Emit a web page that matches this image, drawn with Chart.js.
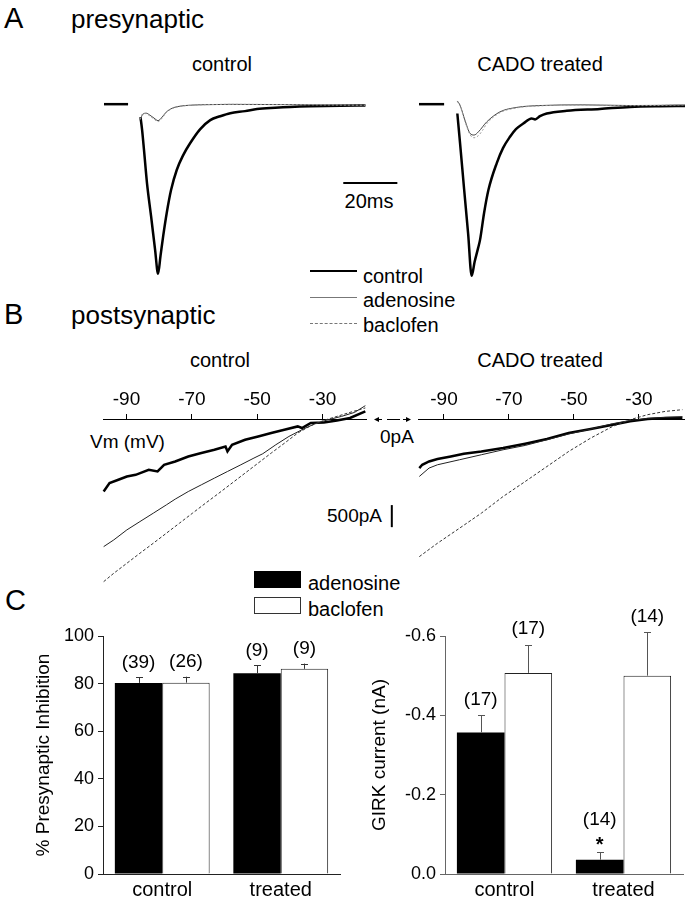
<!DOCTYPE html>
<html>
<head>
<meta charset="utf-8">
<script src="https://cdn.jsdelivr.net/npm/chart.js@4.4.0/dist/chart.umd.min.js"></script>
<style>
html,body{margin:0;padding:0;background:#fff;}
body{width:685px;height:900px;position:relative;overflow:hidden;font-family:"Liberation Sans",Arial,Helvetica,sans-serif;color:#000;}
.t{position:absolute;line-height:1;white-space:nowrap;}
.c{transform:translateX(-50%);}
canvas{position:absolute;}
</style>
</head>
<body>
<!-- Panel A text -->
<div class="t" style="left:4px;top:4px;font-size:29px;">A</div>
<div class="t" style="left:71px;top:6px;font-size:26px;">presynaptic</div>
<div class="t c" style="left:222px;top:54px;font-size:20px;">control</div>
<div class="t c" style="left:540px;top:54px;font-size:20px;">CADO treated</div>
<div class="t c" style="left:369px;top:191px;font-size:20px;">20ms</div>
<div style="position:absolute;left:310px;top:270px;width:47px;height:0;border-top:2.5px solid #000;"></div>
<div style="position:absolute;left:310px;top:297px;width:47px;height:0;border-top:1px solid #777;"></div>
<div style="position:absolute;left:310px;top:323px;width:47px;height:0;border-top:1px dashed #777;"></div>
<div class="t" style="left:363px;top:266px;font-size:20px;">control</div>
<div class="t" style="left:363px;top:290px;font-size:20px;">adenosine</div>
<div class="t" style="left:363px;top:315px;font-size:20px;">baclofen</div>
<!-- Panel B text -->
<div class="t" style="left:4px;top:300px;font-size:29px;">B</div>
<div class="t" style="left:71px;top:302px;font-size:26px;">postsynaptic</div>
<div class="t c" style="left:220px;top:350px;font-size:20px;">control</div>
<div class="t c" style="left:540px;top:350px;font-size:20px;">CADO treated</div>
<div class="t" style="left:90px;top:432px;font-size:19px;">Vm (mV)</div>
<div class="t" style="left:380px;top:427px;font-size:19px;">0pA</div>
<div class="t" style="left:327px;top:506px;font-size:19px;">500pA</div>
<svg style="position:absolute;left:368px;top:412px;" width="50" height="16">
  <g stroke="#000" stroke-width="1" fill="none">
    <line x1="7" y1="7.5" x2="14" y2="7.5"/>
    <line x1="19" y1="7.5" x2="32" y2="7.5"/>
    <line x1="35" y1="7.5" x2="42" y2="7.5"/>
  </g>
  <polygon points="6,7.5 11,5 11,10" fill="#000"/>
  <polygon points="43,7.5 38,5 38,10" fill="#000"/>
</svg>
<!-- Panel C text -->
<div class="t" style="left:5px;top:586px;font-size:29px;">C</div>
<div style="position:absolute;left:254px;top:571px;width:47px;height:17px;background:#000;"></div>
<div style="position:absolute;left:254px;top:597px;width:45px;height:15px;border:1px solid #333;background:#fff;"></div>
<div class="t" style="left:308px;top:573px;font-size:20px;">adenosine</div>
<div class="t" style="left:308px;top:599px;font-size:20px;">baclofen</div>

<canvas id="aLeft" width="312" height="210" style="left:94px;top:84px;"></canvas>
<canvas id="aRight" width="286" height="210" style="left:409px;top:84px;"></canvas>
<canvas id="bLeft" width="310" height="229" style="left:93px;top:381px;"></canvas>
<canvas id="bRight" width="287" height="229" style="left:408px;top:381px;"></canvas>
<canvas id="cLeft" width="350" height="310" style="left:0px;top:590px;"></canvas>
<canvas id="cRight" width="340" height="310" style="left:345px;top:590px;"></canvas>

<script>
// ---------------- DATA ----------------
// Panel A: presynaptic currents, time (ms) vs amplitude (% of control peak)
const aBaselineT = [0, 8.9];
const aBaselineY = [0, 0];
const aCtrlControlT = [13.5,14.1,14.8,15.9,17.4,18.9,20.0,20.9,21.9,23.2,24.8,26.9,29.3,31.9,35.6,39.3,43.0,46.7,52.2,56.6,63.3,68.9,76.3,87.4,96.7];
const aCtrlControlY = [-7.6,-15.3,-27.1,-46.5,-65.9,-85.9,-100,-89.4,-77.6,-64.1,-50.6,-38.8,-30.0,-22.9,-14.7,-9.4,-7.1,-5.3,-4.1,-2.9,-2.1,-1.6,-1.2,-0.9,-0.8];
const aCtrlAdenoT = [13.3,14.4,15.6,17.0,18.5,20.0,21.5,23.0,25.2,28.1,31.9,37.4,46.7,96.7];
const aCtrlAdenoY = [-9.4,-5.9,-5.3,-6.5,-8.2,-9.7,-7.6,-4.7,-2.4,-1.2,-0.6,-0.3,-0.1,-0.6];
const aCtrlBacloY = [-9.0,-5.5,-5.6,-7.0,-8.8,-10.3,-8.2,-5.0,-2.6,-1.3,-0.7,-0.3,-0.1,-0.6];
const aCadoBaselineT = [0, 9.3];
const aCadoControlT = [14.2,15.2,16.7,18.2,19.5,20.6,21.9,22.6,24.1,25.7,28.8,31.1,33.7,35.9,38.6,41.7,43.0,44.8,47.3,54.7,67.0,78.2,89.3,98.5];
const aCadoControlY = [-5.5,-22.9,-50.0,-76.5,-101.2,-92.9,-84.7,-80.0,-64.1,-50.6,-34.7,-25.9,-19.2,-14.7,-11.4,-8.4,-9.0,-7.1,-5.5,-3.9,-2.8,-1.6,-1.2,-1.1];
const aCadoAdenoT = [14.2,15.2,17.0,18.9,20.4,22.0,25.1,30.0,36.2,44.8,60.7,78.2,98.5];
const aCadoAdenoY = [1.9,-0.6,-9.4,-17.2,-18.2,-16.3,-10.4,-4.5,-1.9,-0.8,-0.4,-0.8,-0.6];
const aCadoBacloT = [14.2,15.2,17.0,18.9,20.4,22.0,23.5,25.1,30.0,36.2,44.8,60.7,78.2,98.5];
const aCadoBacloY = [1.5,-1.0,-10.0,-18.0,-19.8,-18.5,-15.5,-11.5,-5.0,-2.2,-1.0,-0.5,-0.9,-0.4];
const scaleBarMs = 20;

// Panel B: I-V relations, membrane potential (mV) vs current (pA)
const vmTicks = [-90, -70, -50, -30];
const bCtrlControlV = [-97.0,-95.2,-92.5,-89.9,-87.2,-83.2,-80.5,-78.5,-75.1,-71.1,-67.1,-63.1,-59.7,-59.1,-57.7,-53.7,-49.7,-45.7,-41.7,-37.6,-36.3,-33.6,-29.6,-25.6,-21.6,-16.9];
const bCtrlControlI = [-1643,-1452,-1377,-1302,-1264,-1150,-1189,-1037,-962,-849,-771,-697,-622,-735,-583,-470,-395,-318,-243,-168,-204,-91,-77,-32,23,172];
const bCtrlAdenoV = [-97.0,-93.9,-89.9,-85.9,-81.8,-77.8,-75.1,-71.1,-67.1,-63.1,-59.1,-55.0,-51.0,-48.3,-44.3,-40.3,-36.3,-32.3,-28.3,-24.2,-20.2,-16.9];
const bCtrlAdenoI = [-2891,-2739,-2512,-2324,-2133,-1945,-1815,-1643,-1491,-1339,-1189,-1037,-885,-787,-583,-395,-243,-107,-16,59,150,302];
const bCtrlBacloV = [-97.0,-93.9,-89.9,-85.9,-81.8,-77.8,-73.8,-69.8,-65.8,-61.7,-57.7,-53.7,-49.7,-45.7,-41.6,-37.6,-33.6,-29.6,-25.6,-21.6,-16.9];
const bCtrlBacloI = [-3685,-3494,-3268,-3041,-2814,-2587,-2360,-2133,-1906,-1679,-1452,-1225,-998,-771,-545,-318,-152,-32,59,150,250];
const bCadoControlV = [-97.6,-96.7,-94.6,-92.0,-87.9,-83.9,-78.5,-71.8,-65.0,-58.3,-51.6,-44.8,-38.1,-32.7,-27.3,-21.9,-16.6];
const bCadoControlI = [-1112,-1037,-962,-908,-849,-787,-735,-658,-560,-454,-318,-227,-129,-54,0,23,30];
const bCadoAdenoV = [-97.6,-94.6,-92.0,-85.2,-78.5,-71.8,-65.0,-58.3,-51.6,-44.8,-38.1,-32.7,-27.3,-21.9,-16.6];
const bCadoAdenoI = [-1302,-1112,-1037,-923,-810,-697,-599,-470,-340,-227,-107,-32,14,36,52];
const bCadoBacloV = [-97.6,-92.0,-85.2,-78.5,-71.8,-65.0,-58.3,-51.6,-44.8,-38.1,-32.7,-27.3,-21.9,-16.6];
const bCadoBacloI = [-3118,-2814,-2473,-2133,-1756,-1416,-1076,-735,-431,-168,-16,98,172,211];
const scaleBarPA = 500;

// Panel C: bar charts
const categories = ['control', 'treated'];
const presynTicks = [0, 20, 40, 60, 80, 100];
const presynAdenosine = [80.3, 84.3];
const presynAdenosineErr = [2.3, 3.4];
const presynBaclofen = [80.4, 86.2];
const presynBaclofenErr = [2.5, 2.2];
const presynNAdenosine = ['(39)', '(9)'];
const presynNBaclofen = ['(26)', '(9)'];
const girkTicks = [0, -0.2, -0.4, -0.6];
const girkAdenosine = [-0.357, -0.036];
const girkAdenosineErr = [0.043, 0.019];
const girkBaclofen = [-0.507, -0.500];
const girkBaclofenErr = [0.070, 0.109];
const girkNAdenosine = ['(17)', '(14)'];
const girkNBaclofen = ['(17)', '(14)'];
const girkSigAdenosine = ['', '*'];
const girkSigBaclofen = ['', ''];

// ---------------- CHARTS ----------------
Chart.defaults.font.family = '"Liberation Sans", Arial, Helvetica, sans-serif';
Chart.defaults.color = '#000';
Chart.defaults.animation = false;

function pts(xs, ys) { return xs.map((x, i) => ({x: x, y: ys[i]})); }

function scaleBars(bars) {
  return {
    id: 'scaleBars',
    afterDatasetsDraw(chart) {
      const ctx = chart.ctx, sx = chart.scales.x, sy = chart.scales.y;
      ctx.save();
      bars.forEach(b => {
        ctx.beginPath();
        ctx.lineWidth = 2;
        ctx.strokeStyle = '#000';
        ctx.moveTo(sx.getPixelForValue(b.x1), sy.getPixelForValue(b.y1));
        ctx.lineTo(sx.getPixelForValue(b.x2), sy.getPixelForValue(b.y2));
        ctx.stroke();
      });
      ctx.restore();
    }
  };
}

function lineDs(data, width, color, dash, smooth) {
  return {data: data, borderColor: color, borderWidth: width, borderDash: dash || [],
    pointRadius: 0, fill: false, clip: false,
    cubicInterpolationMode: smooth ? 'monotone' : 'default', tension: 0};
}

function traceChart(id, datasets, xMin, xMax, yMin, yMax, extraPlugins) {
  return new Chart(document.getElementById(id), {
    type: 'line',
    data: {datasets: datasets},
    options: {
      responsive: false, animation: false,
      layout: {padding: 10},
      plugins: {legend: {display: false}, tooltip: {enabled: false}},
      scales: {
        x: {type: 'linear', min: xMin, max: xMax, display: false},
        y: {type: 'linear', min: yMin, max: yMax, display: false}
      }
    },
    plugins: extraPlugins || []
  });
}

// Panel A
traceChart('aLeft', [
  lineDs(pts(aBaselineT, aBaselineY), 2.5, '#000'),
  lineDs(pts(aCtrlAdenoT, aCtrlBacloY), 1, '#999', [2, 2], true),
  lineDs(pts(aCtrlAdenoT, aCtrlAdenoY), 1, '#444', [], true),
  lineDs(pts(aCtrlControlT, aCtrlControlY), 2.5, '#000', [], true)
], 0, 108, -106, 6, [scaleBars([{x1: 88.5, y1: -46.5, x2: 88.5 + scaleBarMs, y2: -46.5}])]);

traceChart('aRight', [
  lineDs(pts(aCadoBaselineT, aBaselineY), 2.5, '#000'),
  lineDs(pts(aCadoBacloT, aCadoBacloY), 1, '#999', [2, 2], true),
  lineDs(pts(aCadoAdenoT, aCadoAdenoY), 1, '#444', [], true),
  lineDs(pts(aCadoControlT, aCadoControlY), 2.5, '#000', [], true)
], 0, 98.5, -106, 6);

// Panel B
function ivChart(id, datasets, xMin, xMax, padRight, extraPlugins) {
  return new Chart(document.getElementById(id), {
    type: 'line',
    data: {datasets: datasets},
    options: {
      responsive: false, animation: false,
      layout: {padding: {left: 10, right: padRight, top: 6, bottom: 10}},
      plugins: {legend: {display: false}, tooltip: {enabled: false}},
      scales: {
        x: {
          type: 'linear', position: 'top', min: xMin, max: xMax,
          afterBuildTicks: s => { s.ticks = vmTicks.map(v => ({value: v})); },
          afterFit: s => { s.height = 32; },
          ticks: {font: {size: 19}, padding: 3, color: '#000', maxRotation: 0, callback: v => String(v)},
          grid: {display: true, drawOnChartArea: false, drawTicks: true, tickLength: 5, color: '#000'},
          border: {display: true, color: '#000', width: 1}
        },
        y: {type: 'linear', min: -4100, max: 0, display: false}
      }
    },
    plugins: extraPlugins || []
  });
}

ivChart('bLeft', [
  lineDs(pts(bCtrlBacloV, bCtrlBacloI), 1, '#333', [3, 2]),
  lineDs(pts(bCtrlAdenoV, bCtrlAdenoI), 1, '#222'),
  lineDs(pts(bCtrlControlV, bCtrlControlI), 2.5, '#000')
], -97.2, -16.7, 37, [scaleBars([{x1: -8.8, y1: -1950, x2: -8.8, y2: -1950 - scaleBarPA}])]);

ivChart('bRight', [
  lineDs(pts(bCadoBacloV, bCadoBacloI), 1, '#333', [3, 2]),
  lineDs(pts(bCadoAdenoV, bCadoAdenoI), 1, '#222'),
  lineDs(pts(bCadoControlV, bCadoControlI), 2.5, '#000')
], -98, -15.8, 10);

// Panel C
function barAnnot(errs, labels, sigs, color, labelGap) {
  return {
    id: 'barAnnot',
    afterDatasetsDraw(chart) {
      const ctx = chart.ctx, sy = chart.scales.y;
      ctx.save();
      chart.data.datasets.forEach((ds, di) => {
        const meta = chart.getDatasetMeta(di);
        meta.data.forEach((bar, i) => {
          const v = ds.data[i];
          const e = errs[di][i];
          const yTop = sy.getPixelForValue(v + (v < 0 ? -e : e));
          const xx = Math.round(bar.x) + 0.5;
          ctx.strokeStyle = color; ctx.lineWidth = 1;
          ctx.beginPath();
          ctx.moveTo(xx, bar.y); ctx.lineTo(xx, yTop);
          ctx.moveTo(xx - 3.5, Math.round(yTop) + 0.5); ctx.lineTo(xx + 3.5, Math.round(yTop) + 0.5);
          ctx.stroke();
          ctx.fillStyle = '#000';
          ctx.textAlign = 'center'; ctx.textBaseline = 'middle';
          let gap = labelGap;
          if (sigs && sigs[di][i]) {
            ctx.font = 'bold 20px "Liberation Sans", Arial, sans-serif';
            ctx.fillText(sigs[di][i], bar.x, yTop - 7);
            gap = 32;
          }
          ctx.font = '19px "Liberation Sans", Arial, sans-serif';
          ctx.fillText(labels[di][i], bar.x, yTop - gap);
        });
      });
      ctx.restore();
    }
  };
}

function barChart(id, adData, bacData, yOpts, axisColor, padLeft, padRight, yWidth, title, plugin) {
  return new Chart(document.getElementById(id), {
    type: 'bar',
    data: {
      labels: categories,
      datasets: [
        {label: 'adenosine', data: adData, backgroundColor: '#000', borderColor: '#000', borderWidth: 0,
         categoryPercentage: 0.8, barPercentage: 1.0},
        {label: 'baclofen', data: bacData, backgroundColor: '#fff', borderColor: '#222', borderWidth: 1,
         categoryPercentage: 0.8, barPercentage: 1.0}
      ]
    },
    options: {
      responsive: false, animation: false,
      layout: {padding: {left: padLeft, right: padRight, top: 46, bottom: 0}},
      plugins: {legend: {display: false}, tooltip: {enabled: false}},
      scales: {
        x: {
          grid: {display: false, drawTicks: false},
          border: {display: true, color: axisColor, width: 1},
          ticks: {font: {size: 20}, padding: 4, color: '#000'},
          afterFit: s => { s.height = 26; }
        },
        y: Object.assign({
          grid: {display: true, drawOnChartArea: false, drawTicks: true, tickLength: 5, color: axisColor},
          border: {display: true, color: axisColor, width: 1},
          afterFit: s => { s.width = yWidth; },
          title: {display: true, text: title, font: {size: 19}, color: '#000', padding: {top: 4, bottom: 4}}
        }, yOpts)
      }
    },
    plugins: [plugin]
  });
}

barChart('cLeft', presynAdenosine, presynBaclofen, {
  min: 0, max: 100,
  afterBuildTicks: s => { s.ticks = presynTicks.map(v => ({value: v})); },
  ticks: {font: {size: 18}, padding: 4, color: '#000', callback: v => String(v)}
}, '#222', 28, 10, 75, '% Presynaptic Inhibition',
  barAnnot([presynAdenosineErr, presynBaclofenErr], [presynNAdenosine, presynNBaclofen], null, '#333', 15));

barChart('cRight', girkAdenosine, girkBaclofen, {
  min: -0.6, max: 0, reverse: true,
  afterBuildTicks: s => { s.ticks = girkTicks.map(v => ({value: v})); },
  ticks: {font: {size: 18}, padding: 4, color: '#000', callback: v => Number(v).toFixed(1)}
}, '#666', 19, 2, 81, 'GIRK current (nA)',
  barAnnot([girkAdenosineErr, girkBaclofenErr], [girkNAdenosine, girkNBaclofen], [girkSigAdenosine, girkSigBaclofen], '#555', 16));
</script>
</body>
</html>
